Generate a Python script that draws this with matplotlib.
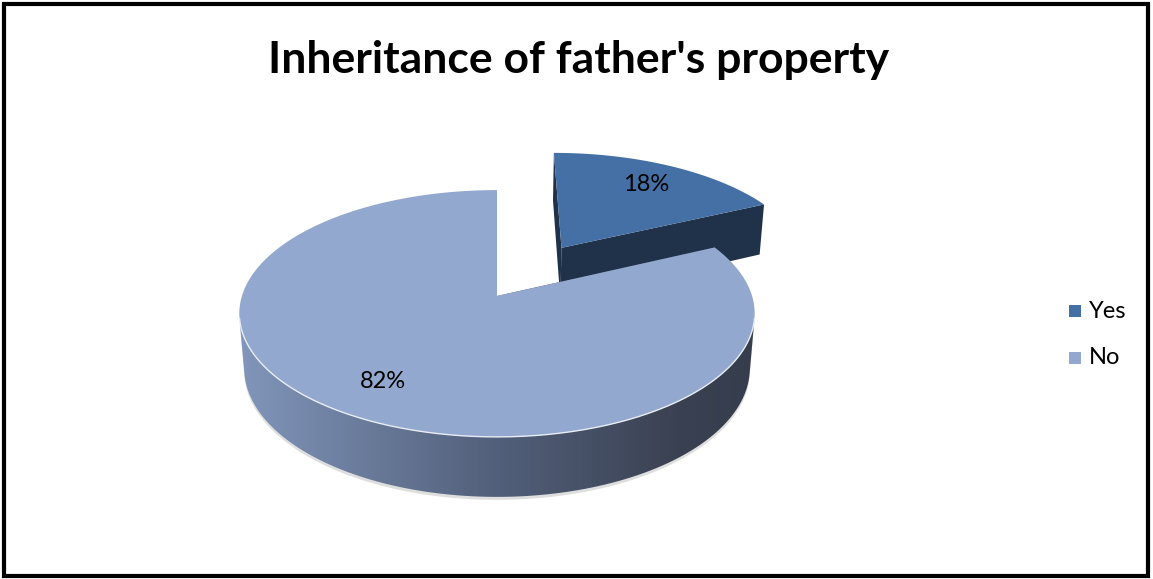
"""Exploded 3D-style pie chart: inheritance of father's property."""

import numpy as np
import matplotlib

matplotlib.use("Agg")
import matplotlib.pyplot as plt
from matplotlib.patches import Polygon, Rectangle
from matplotlib.colors import LinearSegmentedColormap

labels = ["Yes", "No"]
values = [18, 82]
explode = [0.5, 0.0]
top_colors = ["#4570A5", "#93A8CE"]
face_colors = ["#1F3249", "#4A5570"]

# camera for the tilted disc (pixel space, y grows downward)
CX, CY = 497, 296
F = 1584.0
D = 6.21
TILT = np.radians(28.3)
S, C = np.sin(TILT), np.cos(TILT)
HEIGHT = 0.246


def proj(u, v, h):
    depth = D + v * C - h * S
    return CX + F * u / depth, CY - F * (v * S + h * C) / depth


def arc(theta, r, off, h):
    # theta measured clockwise from 12 o'clock, in radians
    u = off[0] + r * np.sin(theta)
    v = off[1] + r * np.cos(theta)
    x, y = proj(u, v, h)
    return np.column_stack([x, y])


fig = plt.figure(figsize=(11.53, 5.79), dpi=100)
ax = fig.add_axes([0, 0, 1, 1])
ax.set_xlim(0, 1153)
ax.set_ylim(579, 0)
ax.axis("off")

total = sum(values)
bounds = np.concatenate([[0], np.cumsum(values)]) / total * 2 * np.pi

slices = []
for i in range(len(values)):
    a0, a1 = bounds[i], bounds[i + 1]
    mid = (a0 + a1) / 2
    off = (explode[i] * np.sin(mid), explode[i] * np.cos(mid))
    slices.append((a0, a1, mid, off))

# visible range of the outer wall for this camera
lim = np.arccos(-1 / (D * C))


def draw_slice(i, z):
    a0, a1, mid, off = slices[i]
    centre = np.array(proj(off[0], off[1], 0))
    centre_low = np.array(proj(off[0], off[1], -HEIGHT))

    # radial cut faces
    for ang in (a0, a1):
        p_top = arc(np.array([ang]), 1.0, off, 0)[0]
        p_low = arc(np.array([ang]), 1.0, off, -HEIGHT)[0]
        quad = np.array([centre, p_top, p_low, centre_low])
        ax.add_patch(Polygon(quad, closed=True, fc=face_colors[i], ec="none", zorder=z))

    # outer wall, front part only
    w0, w1 = max(a0, lim), min(a1, 2 * np.pi - lim)
    if w1 > w0:
        t = np.linspace(w0, w1, 200)
        wall = np.vstack([arc(t, 1.0, off, 0), arc(t[::-1], 1.0, off, -HEIGHT)])
        shadow = wall.copy()
        shadow[:, 1] += 3
        ax.add_patch(Polygon(shadow, closed=True, fc="#C8C8C8", ec="none", alpha=0.6, zorder=z))
        patch = Polygon(wall, closed=True, fc="none", ec="none", zorder=z + 0.1)
        ax.add_patch(patch)
        cmap = LinearSegmentedColormap.from_list(
            "wall", [(0, "#8196BA"), (0.45, "#566480"), (0.85, "#3A4152"), (1, "#363D4D")]
        )
        grad = np.linspace(0, 1, 256).reshape(1, -1)
        x0, x1 = wall[:, 0].min(), wall[:, 0].max()
        y0, y1 = wall[:, 1].min(), wall[:, 1].max()
        img = ax.imshow(grad, cmap=cmap, extent=[x0, x1, y1, y0], aspect="auto",
                        zorder=z + 0.1, interpolation="bilinear")
        img.set_clip_path(patch)

    # top face
    t = np.linspace(a0, a1, 300)
    top = np.vstack([centre, arc(t, 1.0, off, 0)])
    ax.add_patch(Polygon(top, closed=True, fc=top_colors[i], ec="none", zorder=z + 0.2))

    # light bevel along the front rim
    if w1 > w0:
        tt = np.linspace(w0, w1, 200)
        rim = arc(tt, 1.0, off, 0)
        ax.plot(rim[:, 0], rim[:, 1], color="#E8EDF5", lw=1.0, zorder=z + 0.3)


# far slice first, then the near one covers it
for i, z in ((0, 2), (1, 4)):
    draw_slice(i, z)

for i in range(len(values)):
    a0, a1, mid, off = slices[i]
    r = 0.76
    lx, ly = proj(off[0] + r * np.sin(mid), off[1] + r * np.cos(mid), 0)
    ax.text(lx, ly, f"{values[i]}%", ha="center", va="center",
            fontsize=17, family="Lato", color="black", zorder=10)

# title
ax.text(579, 60, "Inheritance of father's property", ha="center", va="center",
        fontsize=32, fontweight="bold", family="Lato", color="black", zorder=10)

# legend
for i, lab in enumerate(labels):
    y = 311 + i * 47
    ax.add_patch(Rectangle((1069, y - 6), 12, 12, fc=top_colors[i], ec="none", zorder=10))
    ax.text(1089, y, lab, ha="left", va="center", fontsize=17,
            family="Lato", color="black", zorder=10)

# chart border
ax.add_patch(Rectangle((4, 4), 1144, 572, fill=False, ec="black", lw=3, zorder=12))

fig.savefig("out.png", dpi=100)
